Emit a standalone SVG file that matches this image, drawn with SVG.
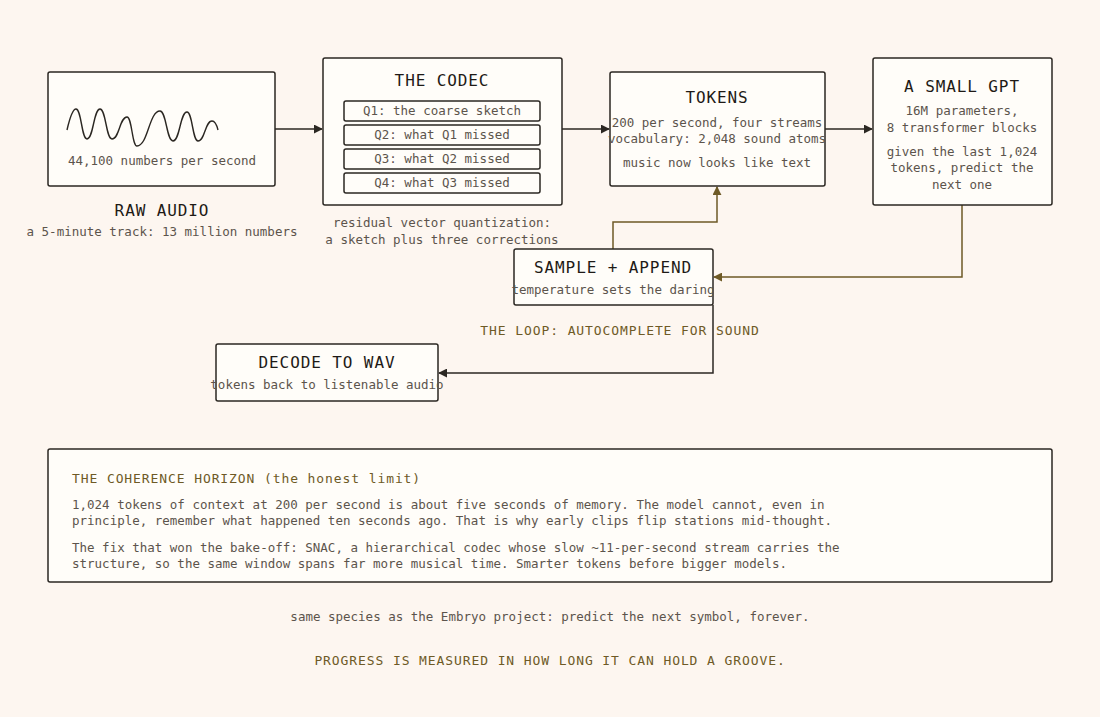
<svg xmlns="http://www.w3.org/2000/svg" width="1100" height="717" viewBox="0 0 1100 717">
<style>
.bg{fill:#fdf6f0}
.box{fill:#fffdf9;stroke:#2b2722;stroke-width:1.5}
.t{font-family:"DejaVu Sans Mono","Liberation Mono",monospace;font-size:16px;letter-spacing:0.9px;fill:#1e1a16;text-anchor:middle}
.b{font-family:"DejaVu Sans Mono","Liberation Mono",monospace;font-size:12.5px;fill:#5c544c;text-anchor:middle}
.bl{font-family:"DejaVu Sans Mono","Liberation Mono",monospace;font-size:12.5px;fill:#5c544c}
.o{font-family:"DejaVu Sans Mono","Liberation Mono",monospace;font-size:13px;letter-spacing:0.9px;fill:#6e5a26}
.dk{fill:none;stroke:#2b2722;stroke-width:1.5}
.ol{fill:none;stroke:#6e5a26;stroke-width:1.5}
</style>
<defs>
<marker id="ad" viewBox="0 0 10 10" refX="9" refY="5" markerWidth="9" markerHeight="9" markerUnits="userSpaceOnUse" orient="auto"><path d="M0,0 L10,5 L0,10 z" fill="#2b2722"/></marker>
<marker id="ao" viewBox="0 0 10 10" refX="9" refY="5" markerWidth="9" markerHeight="9" markerUnits="userSpaceOnUse" orient="auto"><path d="M0,0 L10,5 L0,10 z" fill="#6e5a26"/></marker>
</defs>
<rect class="bg" x="0" y="0" width="1100" height="717"/>

<g id="connectors">
<path class="dk" d="M275,129 H322" marker-end="url(#ad)"/>
<path class="dk" d="M562,129 H609" marker-end="url(#ad)"/>
<path class="dk" d="M825,129 H872" marker-end="url(#ad)"/>
<path class="ol" d="M962,205 V277 H714" marker-end="url(#ao)"/>
<path class="ol" d="M613,249 V222 H717 V187" marker-end="url(#ao)"/>
<path class="dk" d="M713,305 V373 H439" marker-end="url(#ad)"/>
</g>

<g id="raw-audio">
<rect class="box" x="48" y="72" width="227" height="114" rx="2"/>
<path d="M67,130 C70,117 73,109 76,109 C81.5,109 81.5,139 87,139 C93.5,139 93.5,109 100,109 C106,109 106,139 112,139 C119.5,139 119.5,117 127,117 C132,117 132,146 137,146 C148,146 149,111 160,111 C166.5,111 166.5,141 173,141 C180,141 180,112 187,112 C192.5,112 192.5,141 198,141 C205,141 205,121 212,121 C215,121 217,126 218,130" fill="none" stroke="#2b2722" stroke-width="1.4"/>
<text class="b" x="162" y="165">44,100 numbers per second</text>
<text class="t" x="162" y="216">RAW AUDIO</text>
<text class="b" x="162" y="236">a 5-minute track: 13 million numbers</text>
</g>

<g id="codec">
<rect class="box" x="323" y="58" width="239" height="147" rx="2"/>
<text class="t" x="442" y="86">THE CODEC</text>
<rect class="box" x="344" y="101" width="196" height="20" rx="2"/>
<text class="b" x="442" y="115">Q1: the coarse sketch</text>
<rect class="box" x="344" y="125" width="196" height="20" rx="2"/>
<text class="b" x="442" y="139">Q2: what Q1 missed</text>
<rect class="box" x="344" y="149" width="196" height="20" rx="2"/>
<text class="b" x="442" y="163">Q3: what Q2 missed</text>
<rect class="box" x="344" y="173" width="196" height="20" rx="2"/>
<text class="b" x="442" y="187">Q4: what Q3 missed</text>
<text class="b" x="442" y="227">residual vector quantization:</text>
<text class="b" x="442" y="244">a sketch plus three corrections</text>
</g>

<g id="tokens">
<rect class="box" x="610" y="72" width="215" height="114" rx="2"/>
<text class="t" x="717" y="103">TOKENS</text>
<text class="b" x="717" y="127">200 per second, four streams</text>
<text class="b" x="717" y="143">vocabulary: 2,048 sound atoms</text>
<text class="b" x="717" y="167">music now looks like text</text>
</g>

<g id="small-gpt">
<rect class="box" x="873" y="58" width="179" height="147" rx="2"/>
<text class="t" x="962" y="92">A SMALL GPT</text>
<text class="b" x="962" y="115">16M parameters,</text>
<text class="b" x="962" y="132">8 transformer blocks</text>
<text class="b" x="962" y="156">given the last 1,024</text>
<text class="b" x="962" y="172">tokens, predict the</text>
<text class="b" x="962" y="189">next one</text>
</g>

<g id="sample-append">
<rect class="box" x="514" y="249" width="199" height="56" rx="2"/>
<text class="t" x="613" y="273">SAMPLE + APPEND</text>
<text class="b" x="613" y="294">temperature sets the daring</text>
</g>

<g id="loop-label">
<text class="o" x="620" y="334.5" text-anchor="middle">THE LOOP: AUTOCOMPLETE FOR SOUND</text>
</g>

<g id="decode">
<rect class="box" x="216" y="344" width="222" height="57" rx="2"/>
<text class="t" x="327" y="368">DECODE TO WAV</text>
<text class="b" x="327" y="389">tokens back to listenable audio</text>
</g>

<g id="coherence">
<rect class="box" x="48" y="449" width="1004" height="133" rx="2"/>
<text class="o" x="72" y="482.5">THE COHERENCE HORIZON (the honest limit)</text>
<text class="bl" x="72" y="509">1,024 tokens of context at 200 per second is about five seconds of memory. The model cannot, even in</text>
<text class="bl" x="72" y="525">principle, remember what happened ten seconds ago. That is why early clips flip stations mid-thought.</text>
<text class="bl" x="72" y="552">The fix that won the bake-off: SNAC, a hierarchical codec whose slow ~11-per-second stream carries the</text>
<text class="bl" x="72" y="568">structure, so the same window spans far more musical time. Smarter tokens before bigger models.</text>
</g>

<g id="footer">
<text class="b" x="550" y="621">same species as the Embryo project: predict the next symbol, forever.</text>
<text class="o" x="550" y="664.5" text-anchor="middle">PROGRESS IS MEASURED IN HOW LONG IT CAN HOLD A GROOVE.</text>
</g>
</svg>
